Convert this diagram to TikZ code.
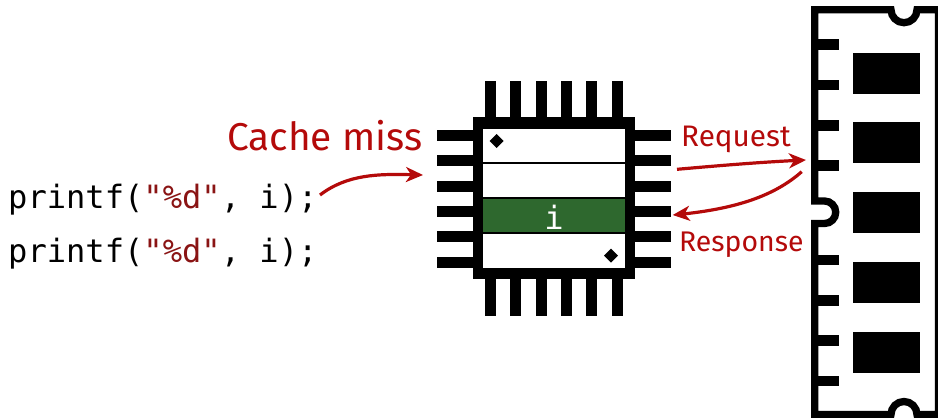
\documentclass[tikz,border=0pt]{standalone}
\usepackage{fontspec}
\setmainfont{Fira Sans}
\newfontfamily\codefont{DejaVu Sans Mono}
\usetikzlibrary{arrows.meta,bending}
\definecolor{missred}{HTML}{B40A0A}
\definecolor{strred}{HTML}{8A1414}
\definecolor{lineGreen}{HTML}{2E682E}
\tikzset{
  x=1pt,y=-1pt,
  pin/.style={fill=black,draw=none},
  ramchip/.style={fill=black,draw=none},
  note/.style={text=missred,inner sep=0pt,anchor=base west},
  code/.style={inner sep=0pt,anchor=base west,font=\codefont\fontsize{32.1}{34}\selectfont},
  flow/.style={draw=missred,line width=3.2pt,-{Stealth[length=17pt,width=15pt,inset=5pt,flex]}},
}
\newcommand{\strq}[1]{\textcolor{strred}{#1}}
\begin{document}
\begin{tikzpicture}
\useasboundingbox (0,0) rectangle (938,418);
% chip pins
\foreach \p in {490.3,515.3,541.3,566.3,591.3,617.3}{
  \fill[pin] (\p-5.5,81) rectangle (\p+5.5,316);
}
\foreach \p in {135,160,186,211,236,262}{
  \fill[pin] (437,\p-5.5) rectangle (671,\p+5.5);
}
% chip body
\fill[black] (472.7,117.3) rectangle (635,279.3);
\fill[white] (482.7,129) rectangle (624.7,268);
\fill[lineGreen] (482.7,198.3) rectangle (624.7,233.3);
\draw[line width=2.2pt] (482.7,163.3) -- (624.7,163.3);
\draw[line width=2.2pt] (482.7,198.3) -- (624.7,198.3);
\draw[line width=2.2pt] (482.7,233.3) -- (624.7,233.3);
\fill (489.7,141) -- (496.7,134) -- (503.7,141) -- (496.7,148) -- cycle;
\fill (604,255.7) -- (611,248.7) -- (618,255.7) -- (611,262.7) -- cycle;
\node[inner sep=0pt,anchor=base,text=white,font=\codefont\fontsize{32.1}{34}\selectfont] (cell) at (554,229) {i};
% memory module
\begin{scope}
\clip (0,0) rectangle (938,418);
\draw[line width=7.3pt,miter limit=10]
  (814.7,201) -- (814.7,9.7) -- (891,9.7)
  arc[start angle=180,end angle=0,radius=13]
  -- (938.6,9.7) -- (938.6,414.5) -- (917,414.5)
  arc[start angle=0,end angle=-180,radius=13]
  -- (814.7,414.5) -- (814.7,223.5) -- (824.5,223.5)
  arc[start angle=90,end angle=-90,radius=11.25]
  -- cycle;
\end{scope}
\foreach \p in {44.3,85,125.3,165.7,260,300.3,340.7,381}{
  \fill[pin] (815,\p-5.3) rectangle (839,\p+5.3);
}
\foreach \p in {53.3,122.3,192.3,261.5,331.5}{
  \fill[ramchip] (853,\p) rectangle (920,\p+41);
}
% text
\node[note,font=\fontsize{38.8}{42}\selectfont] (miss) at (227,150) {Cache miss};
\node[note,font=\fontsize{29.7}{32}\selectfont] (req) at (681,146.7) {Request};
\node[note,font=\fontsize{28.4}{32}\selectfont] (resp) at (679,251.7) {Response};
\node[code] (line1) at (8,208) {printf(\strq{"\%d"}, i);};
\node[code] (line2) at (8,262.5) {printf(\strq{"\%d"}, i);};
% connectors
\coordinate (missfrom) at (320,195);
\coordinate (missto) at (423,175);
\coordinate (reqfrom) at (677,169.3);
\coordinate (reqto) at (806,160);
\coordinate (respfrom) at (801.7,171.7);
\coordinate (respto) at (672.7,215);
\draw[flow] (missfrom) .. controls (350,172) and (385,174) .. (missto);
\draw[flow] (reqfrom) .. controls (715,166) and (760,162) .. (reqto);
\draw[flow] (respfrom) .. controls (772,198) and (730,210) .. (respto);
\end{tikzpicture}
\end{document}
